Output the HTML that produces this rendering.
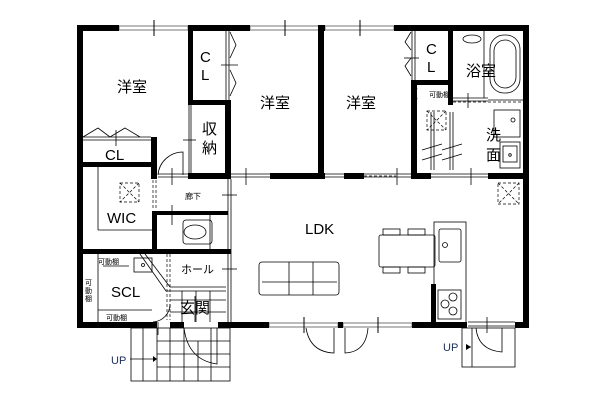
<!DOCTYPE html>
<html><head><meta charset="utf-8"><style>
html,body{margin:0;padding:0;background:#fff;}
svg{display:block;}
text{font-family:"Liberation Sans","Noto Sans CJK JP",sans-serif;fill:#000;}
</style></head><body>
<svg width="600" height="400" viewBox="0 0 600 400" xmlns="http://www.w3.org/2000/svg">
<g fill="none" stroke="#000" stroke-width="1">
<!-- window lines top -->
<rect x="119" y="26" width="69" height="4" stroke="#777"/>
<rect x="250" y="26" width="69" height="4" stroke="#777"/>
<rect x="325" y="26" width="69" height="4" stroke="#777"/>
<line x1="154" y1="20" x2="154" y2="36"/><line x1="285" y1="20" x2="285" y2="36"/><line x1="360" y1="20" x2="360" y2="36"/>
<!-- bottom windows -->
<rect x="269" y="323" width="69" height="4" stroke="#777"/>
<rect x="343" y="323" width="69" height="4" stroke="#777"/>
<line x1="304" y1="317" x2="304" y2="333"/><line x1="378" y1="317" x2="378" y2="333"/>
</g>
<g fill="#000">
<!-- outer walls -->
<rect x="77" y="25" width="42" height="6"/>
<rect x="188" y="25" width="62" height="6"/>
<rect x="319" y="25" width="6" height="6"/>
<rect x="394" y="25" width="135" height="6"/>
<rect x="77" y="25" width="6" height="303"/>
<rect x="523" y="25" width="6" height="303"/>
<rect x="77" y="322" width="80" height="6"/>
<rect x="170" y="322" width="14" height="6"/>
<rect x="218" y="322" width="51" height="6"/>
<rect x="338" y="322" width="5" height="6"/>
<rect x="412" y="322" width="55" height="6"/>
<rect x="515" y="322" width="14" height="6"/>
<!-- interior walls -->
<rect x="188" y="25" width="5" height="80"/>
<rect x="188" y="100" width="43" height="5"/>
<rect x="225" y="100" width="6" height="78"/>
<rect x="318" y="25" width="6" height="153"/>
<rect x="188" y="173" width="43" height="6"/>
<rect x="270" y="173" width="55" height="6"/>
<rect x="344" y="173" width="20" height="6"/>
<rect x="411" y="80" width="6" height="99"/>
<rect x="411" y="80" width="40" height="5"/>
<rect x="448" y="25" width="5" height="80"/>
<rect x="411" y="173" width="20" height="6"/>
<rect x="488" y="173" width="41" height="6"/>
<rect x="77" y="162" width="80" height="5"/>
<rect x="151" y="137" width="6" height="42"/>
<rect x="77" y="249" width="154" height="5"/>
<rect x="152" y="212" width="5" height="41"/>
<rect x="152" y="211" width="76" height="4"/>
<rect x="431" y="284" width="5" height="42"/>
</g>
<g fill="none" stroke="#000" stroke-width="0.8">
<!-- CL left -->
<line x1="83" y1="137" x2="151" y2="137"/><line x1="83" y1="140" x2="151" y2="140"/>
<polyline points="83,137 98,128 110,137 125,128 140,137"/>
<line x1="116" y1="130" x2="116" y2="146"/>
<!-- CL middle doors -->
<line x1="226" y1="31" x2="226" y2="100"/><line x1="229" y1="31" x2="229" y2="100"/>
<polyline points="230,32 236,45 230,58"/><polyline points="230,70 236,83 230,96"/>
<line x1="221" y1="65" x2="238" y2="65"/>
<!-- 収納 -->
<line x1="189" y1="105" x2="189" y2="175"/><line x1="191" y1="105" x2="191" y2="175"/>
<line x1="183" y1="140" x2="196" y2="140"/>
<!-- door swing near 廊下 -->
<path d="M158,175 A25,25 0 0 1 183,152 L183,175"/>
<line x1="158" y1="174" x2="188" y2="174"/><line x1="158" y1="177" x2="188" y2="177"/>
<line x1="172" y1="168" x2="172" y2="185"/>
<line x1="231" y1="174" x2="270" y2="174"/><line x1="231" y1="177" x2="270" y2="177"/>
<line x1="246" y1="168" x2="246" y2="185"/>
<line x1="324" y1="174" x2="344" y2="174"/><line x1="324" y1="177" x2="344" y2="177"/>
<line x1="364" y1="174" x2="411" y2="174"/><line x1="364" y1="177" x2="411" y2="177"/>
<line x1="397" y1="168" x2="397" y2="185"/>
<line x1="431" y1="174" x2="488" y2="174"/><line x1="431" y1="177" x2="488" y2="177"/>
<line x1="471" y1="168" x2="471" y2="185"/>
<!-- hall vertical double line -->
<line x1="228" y1="179" x2="228" y2="322"/><line x1="231" y1="179" x2="231" y2="322"/>
<line x1="222" y1="195" x2="237" y2="195"/>
<line x1="222" y1="269" x2="237" y2="269"/>
<!-- right CL -->
<line x1="412" y1="31" x2="412" y2="80"/><line x1="415" y1="31" x2="415" y2="80"/>
<polyline points="411,32 405,42 411,50"/><polyline points="411,58 405,66 411,76"/>
<line x1="404" y1="58" x2="419" y2="58"/>
<!-- bath -->
<rect x="490" y="35" width="30" height="58" rx="14"/>
<rect x="494" y="40" width="22" height="48" rx="11"/>
<line x1="484" y1="31" x2="484" y2="98"/>
<ellipse cx="472" cy="39" rx="9" ry="4"/>
<line x1="453" y1="98" x2="488" y2="98"/><line x1="453" y1="101" x2="488" y2="101"/>
<line x1="468" y1="93" x2="468" y2="108"/>
<line x1="488" y1="100" x2="523" y2="100"/>
<!-- washroom -->
<rect x="494" y="110" width="26" height="27"/><circle cx="513" cy="120" r="2"/>
<rect x="500" y="142" width="20" height="26"/><rect x="503" y="146" width="14" height="16"/><circle cx="510" cy="155" r="1.3"/>
<line x1="431" y1="112" x2="431" y2="170"/><line x1="434" y1="112" x2="434" y2="170"/>
<line x1="450" y1="112" x2="450" y2="170"/><line x1="453" y1="112" x2="453" y2="170"/>
<line x1="422" y1="150" x2="442" y2="144"/><line x1="422" y1="160" x2="442" y2="154"/>
<line x1="442" y1="150" x2="462" y2="144"/><line x1="442" y1="160" x2="462" y2="154"/>
<!-- toilet -->
<rect x="183" y="220" width="29" height="24" rx="3"/>
<ellipse cx="195" cy="232" rx="11" ry="7"/>
<line x1="210" y1="215" x2="210" y2="249"/>
<line x1="172" y1="205" x2="172" y2="225"/>
<!-- WIC shelves -->
<line x1="98" y1="167" x2="98" y2="230"/><line x1="98" y1="230" x2="152" y2="230"/>
<!-- SCL shelves -->
<line x1="98" y1="254" x2="98" y2="322"/>
<line x1="98" y1="310" x2="152" y2="310"/><line x1="103" y1="266" x2="129" y2="266"/>
<rect x="134" y="258" width="18" height="14"/><circle cx="143" cy="265" r="1.5"/>
<polyline points="145,254 170,287 226,287"/><polyline points="140,254 166,291 226,291"/>
<!-- entry -->
<path d="M153,322 A18,18 0 0 0 170,304 L170,308"/>
<line x1="158" y1="322" x2="158" y2="335"/>
<path d="M184,328 Q188,360 217,364 L217,328"/>
<line x1="195" y1="296" x2="195" y2="322"/>
<line x1="170" y1="300" x2="226" y2="300"/><line x1="170" y1="312" x2="226" y2="312"/>
<line x1="182" y1="291" x2="182" y2="322"/><line x1="196" y1="291" x2="196" y2="322"/><line x1="210" y1="291" x2="210" y2="322"/>
<!-- steps -->
<rect x="131" y="328" width="99" height="53"/>
<line x1="143" y1="328" x2="143" y2="381"/><line x1="157" y1="328" x2="157" y2="381"/>
<line x1="170" y1="328" x2="170" y2="381"/><line x1="184" y1="328" x2="184" y2="381"/>
<line x1="198" y1="341" x2="198" y2="381"/><line x1="211" y1="328" x2="211" y2="381"/>
<line x1="157" y1="341" x2="230" y2="341"/><line x1="157" y1="354" x2="230" y2="354"/><line x1="157" y1="367" x2="230" y2="367"/>
<line x1="130" y1="359" x2="153" y2="359"/>
<!-- LDK doors -->
<path d="M306,328 Q310,352 334,353 L334,328"/>
<path d="M368,328 Q366,352 345,353 L345,328"/>
<!-- sofa -->
<rect x="259" y="262" width="80" height="33" rx="3"/>
<line x1="262" y1="282" x2="337" y2="282"/>
<line x1="289" y1="262" x2="289" y2="295"/><line x1="313" y1="262" x2="313" y2="295"/>
<!-- table -->
<rect x="379" y="235" width="56" height="32" rx="2"/>
<rect x="383" y="229" width="17" height="6"/><rect x="408" y="229" width="17" height="6"/>
<rect x="383" y="267" width="17" height="6"/><rect x="408" y="267" width="17" height="6"/>
<!-- kitchen -->
<rect x="434" y="222" width="32" height="101"/>
<rect x="439" y="229" width="22" height="33" rx="2"/><circle cx="445" cy="245" r="2.5"/>
<rect x="438" y="290" width="23" height="29"/>
<circle cx="453" cy="297" r="4"/><circle cx="445" cy="304" r="4"/><circle cx="453" cy="311" r="4"/>
<!-- back door -->
<path d="M476,328 Q478,350 502,352 L502,328"/>
<rect x="462" y="328" width="53" height="39"/><line x1="472" y1="328" x2="472" y2="367"/>
<line x1="468" y1="322" x2="515" y2="322"/><line x1="468" y1="326" x2="515" y2="326"/>
<line x1="487" y1="317" x2="487" y2="333"/>
<line x1="466" y1="347" x2="471" y2="347"/>
</g>
<g fill="none" stroke="#000" stroke-width="0.7" stroke-dasharray="3,2">
<rect x="120" y="183" width="19" height="19"/><line x1="120" y1="183" x2="139" y2="202"/><line x1="139" y1="183" x2="120" y2="202"/>
<rect x="427" y="111" width="19" height="19"/><line x1="427" y1="111" x2="446" y2="130"/><line x1="446" y1="111" x2="427" y2="130"/>
<rect x="498" y="183" width="21" height="21"/><line x1="498" y1="183" x2="519" y2="204"/><line x1="519" y1="183" x2="498" y2="204"/>
<line x1="153" y1="180" x2="153" y2="210"/><line x1="156" y1="180" x2="156" y2="210"/>
<line x1="167" y1="254" x2="167" y2="320"/><line x1="170" y1="254" x2="170" y2="320"/>
<line x1="270" y1="176" x2="318" y2="176"/><line x1="364" y1="176" x2="396" y2="176"/>
<line x1="453" y1="102" x2="521" y2="102"/>
</g>
<polygon points="153,356 153,362 157,359" fill="#000"/>
<polygon points="466,344 466,350 471,347" fill="#000"/>
<g font-size="15">
<text x="117" y="92">洋室</text><text x="260" y="108">洋室</text><text x="346" y="108">洋室</text>
<text x="466" y="76">浴室</text>
<text x="486" y="140">洗</text><text x="486" y="160">面</text>
<text x="202" y="134">収</text><text x="202" y="153">納</text>
<text x="180" y="313">玄関</text>
</g>
<g font-size="15">
<text x="105" y="160">CL</text>
<text x="200" y="62">C</text><text x="201" y="80">L</text>
<text x="426" y="54">C</text><text x="427" y="72">L</text>
<text x="305" y="234">LDK</text>
<text x="107" y="223">WIC</text>
<text x="111" y="297">SCL</text>
</g>
<g font-size="11"><text x="181" y="273">ホール</text></g>
<g font-size="8"><text x="185" y="199">廊下</text></g>
<g font-size="7">
<text x="98" y="264">可動棚</text><text x="106" y="320">可動棚</text><text x="429" y="97">可動棚</text>
<text x="85" y="285">可</text><text x="85" y="293">動</text><text x="85" y="301">棚</text>
<text x="413" y="92">P</text><text x="413" y="100">S</text>
</g>
<g font-size="11" fill="#1d2e5c"><text x="111" y="364" style="fill:#1d2e5c">UP</text><text x="443" y="351" style="fill:#1d2e5c">UP</text></g>
</svg>
</body></html>
